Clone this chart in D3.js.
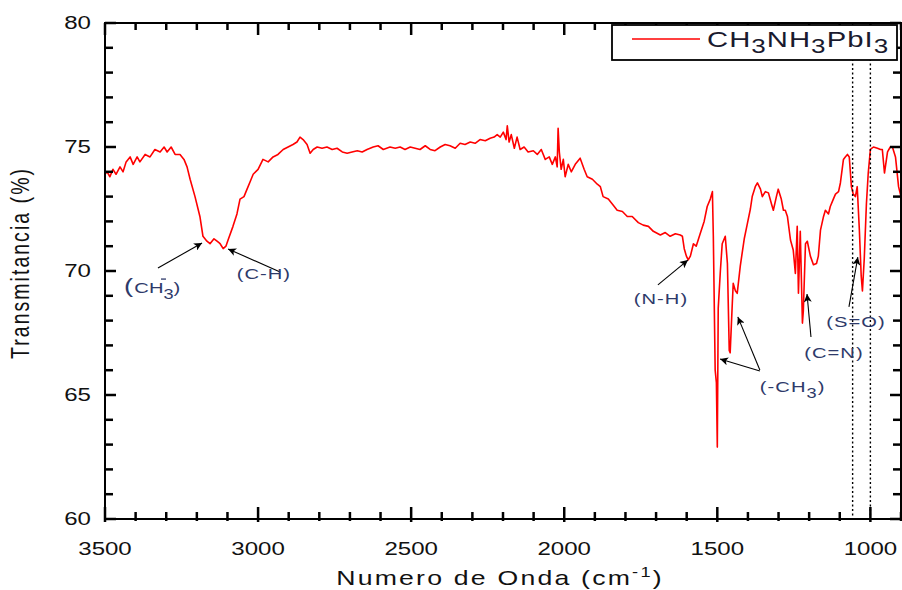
<!DOCTYPE html>
<html><head><meta charset="utf-8">
<script src="https://cdn.jsdelivr.net/npm/d3@7"></script>
<style>body{margin:0;background:#fff;} svg{display:block;}</style>
</head><body><svg id="c" width="902" height="590"></svg>
<script>
const wavenumber = [3500,3493,3484,3474,3464,3451,3441,3431,3418,3408,3395,3386,3369,3353,3337,3320,3307,3297,3284,3271,3255,3242,3232,3222,3206,3190,3180,3167,3157,3144,3134,3124,3114,3105,3098,3082,3069,3059,3046,3036,3026,3016,3000,2984,2967,2951,2935,2918,2902,2886,2873,2863,2853,2840,2830,2820,2807,2791,2775,2758,2742,2725,2709,2693,2676,2660,2644,2624,2608,2591,2569,2552,2536,2520,2503,2487,2471,2454,2438,2422,2405,2389,2373,2356,2340,2324,2307,2291,2275,2258,2242,2229,2219,2209,2199,2190,2186,2180,2173,2163,2154,2144,2131,2118,2101,2088,2075,2062,2049,2039,2029,2023,2020,2016,2010,2003,1997,1987,1977,1964,1948,1935,1925,1908,1892,1882,1873,1856,1843,1827,1810,1794,1778,1758,1742,1725,1709,1686,1670,1654,1637,1621,1614,1608,1601,1595,1588,1578,1569,1556,1543,1533,1523,1516,1513,1507,1503,1500,1497,1490,1484,1474,1467,1461,1458,1451,1448,1441,1435,1425,1412,1402,1392,1386,1376,1369,1359,1353,1343,1333,1323,1317,1307,1301,1291,1284,1278,1271,1261,1252,1245,1239,1235,1229,1222,1219,1212,1206,1196,1186,1176,1170,1163,1153,1147,1137,1131,1121,1114,1104,1098,1088,1082,1075,1069,1062,1056,1049,1043,1036,1030,1026,1020,1013,1007,1000,990,977,967,961,954,944,935,928,918,908,900];
const transmittance = [73.9,74.0,73.8,74.1,73.9,74.2,74.0,74.4,74.6,74.3,74.6,74.4,74.7,74.6,74.9,74.8,75.0,74.8,75.0,74.7,74.7,74.5,74.2,73.7,73.0,72.2,71.4,71.2,71.1,71.3,71.2,71.1,70.9,71.0,71.25,71.8,72.3,72.9,73.0,73.3,73.6,73.9,74.1,74.5,74.4,74.6,74.7,74.9,75.0,75.1,75.2,75.4,75.3,75.1,74.75,74.9,75.0,74.95,75.0,74.9,74.95,74.8,74.75,74.8,74.85,74.8,74.9,75.0,75.05,74.9,75.0,74.95,75.0,74.9,75.0,74.95,74.9,75.05,74.9,74.85,75.0,75.1,75.05,74.95,75.15,75.1,75.2,75.15,75.3,75.25,75.35,75.4,75.5,75.4,75.6,75.3,75.85,75.2,75.5,74.95,75.4,74.9,75.0,74.8,74.85,74.7,74.9,74.5,74.6,74.3,74.6,74.2,75.75,74.8,74.1,74.5,73.8,74.3,74.0,74.3,74.55,74.1,73.8,73.7,73.5,73.4,73.0,72.9,72.7,72.45,72.4,72.2,72.2,71.95,71.85,71.8,71.6,71.45,71.55,71.4,71.5,71.45,71.4,70.9,70.6,70.45,70.6,71.1,71.0,71.5,72.0,72.6,72.9,73.2,71.4,66.0,65.5,62.9,68.5,70.0,71.1,71.4,70.3,66.8,66.7,68.7,69.5,69.2,69.1,70.2,71.3,71.9,72.5,73.0,73.4,73.55,73.3,73.0,73.2,73.15,72.7,72.45,73.0,73.3,72.9,72.45,72.45,72.2,71.25,70.85,69.9,71.8,69.1,71.6,67.9,68.4,71.1,71.2,70.6,70.25,70.3,70.6,71.65,72.2,72.45,72.3,72.6,72.9,73.1,73.2,73.55,74.5,74.6,74.7,74.6,73.4,73.1,73.0,73.4,71.65,69.8,69.2,70.5,72.7,73.95,74.9,75.0,74.95,74.9,74.9,73.95,74.8,75.0,75.0,74.6,73.4,73.0];

const xMajorTicks = [3500,3000,2500,2000,1500,1000];
const xMinorTicks = [3400,3300,3200,3100,2900,2800,2700,2600,2400,2300,2200,2100,1900,1800,1700,1600,1400,1300,1200,1100,900];
const yMajorTicks = [60,65,70,75,80];
const yMinorTicks = [61,62,63,64,66,67,68,69,71,72,73,74,76,77,78,79];
const xDomain = [3500, 900];
const yDomain = [60, 80];
const markerLines = [1058, 1000];

const annotLabels = [
  {key:"CH", w:3438, t:69.11},
  {key:"C-H", text:"(C-H)", w:2981, t:69.68},
  {key:"N-H", text:"(N-H)", w:1684, t:68.67},
  {key:"-CH3", w:1361, t:65.12},
  {key:"C=N", text:"(C=N)", w:1119, t:66.49},
  {key:"S=O", text:"(S=O)", w:1047, t:67.74}
];
const arrowTailW = [3327, 2928, 1694, 1361, 1361, 1194, 1070];
const arrowTailT = [70.12, 69.96, 69.44, 65.97, 66.01, 67.34, 68.55];
const arrowTipW  = [3183, 3098, 1596, 1491, 1433, 1207, 1041];
const arrowTipT  = [71.13, 70.89, 70.44, 66.45, 68.15, 69.07, 70.56];

const svg = d3.select("#c");
const L = 105, R = 901, T = 23, B = 519;
const SX = 1.3;
const x = d3.scaleLinear().domain(xDomain).range([L, R]);
const y = d3.scaleLinear().domain(yDomain).range([B, T]);
const FONT = "'Liberation Sans', Arial, sans-serif";

function stext(px, py, anchor, size, color) {
  return svg.append("text")
    .attr("transform", `translate(${px},${py}) scale(${SX},1)`)
    .attr("text-anchor", anchor)
    .attr("font-family", FONT)
    .attr("font-size", size)
    .attr("fill", color || "#111");
}

// data line
const data = wavenumber.map((w, i) => ({w, t: transmittance[i]}));
svg.append("path").datum(data)
  .attr("fill", "none").attr("stroke", "#ff0000").attr("stroke-width", 1.6)
  .attr("stroke-linejoin", "round")
  .attr("d", d3.line().x(d => x(d.w)).y(d => y(d.t)));

// dotted marker lines
svg.selectAll(".mk").data(markerLines).enter().append("line")
  .attr("x1", d => x(d)).attr("x2", d => x(d))
  .attr("y1", T).attr("y2", B)
  .attr("stroke", "#000").attr("stroke-width", 1.4)
  .attr("stroke-dasharray", "2,2.5");

// frame
svg.append("rect").attr("x", L).attr("y", T).attr("width", R - L).attr("height", B - T)
  .attr("fill", "none").attr("stroke", "#000").attr("stroke-width", 2);

// ticks: inward on all sides, bottom ones cross the axis slightly
const TK = "#000";
function tickSet(vals, len, out, isX) {
  vals.forEach(v => {
    if (isX) {
      const px = x(v);
      svg.append("line").attr("x1", px).attr("x2", px).attr("y1", B + out).attr("y2", B - len)
        .attr("stroke", TK).attr("stroke-width", 2.5);
      svg.append("line").attr("x1", px).attr("x2", px).attr("y1", T).attr("y2", T + len)
        .attr("stroke", TK).attr("stroke-width", 2.5);
    } else {
      const py = y(v);
      svg.append("line").attr("y1", py).attr("y2", py).attr("x1", L).attr("x2", L + len)
        .attr("stroke", TK).attr("stroke-width", 2.5);
      svg.append("line").attr("y1", py).attr("y2", py).attr("x1", R).attr("x2", R - len)
        .attr("stroke", TK).attr("stroke-width", 2.5);
    }
  });
}
tickSet(xMajorTicks, 12, 3, true);
tickSet(xMinorTicks, 7, 2, true);
tickSet(yMajorTicks, 11, 0, false);
tickSet(yMinorTicks, 8, 0, false);

// tick labels
xMajorTicks.forEach(v => stext(x(v), 555, "middle", 18.5).text(v));
yMajorTicks.forEach(v => stext(91, y(v) + 6, "end", 18.5).text(v));

// axis titles
const xtitle = stext(500, 585, "middle", 20.5, "#111").attr("letter-spacing", 1.7);
xtitle.append("tspan").text("Numero de Onda (cm");
xtitle.append("tspan").attr("font-size", 14).attr("dy", -8).text("-1");
xtitle.append("tspan").attr("dy", 8).text(")");

svg.append("text")
  .attr("transform", `translate(29,264) scale(${SX},1) rotate(-90)`)
  .attr("text-anchor", "middle").attr("font-family", FONT).attr("font-size", 19.5)
  .attr("fill", "#111").attr("textLength", 190).attr("lengthAdjust", "spacing")
  .text("Transmitancia (%)");

// legend
svg.append("rect").attr("x", 612).attr("y", 25).attr("width", 285).attr("height", 35)
  .attr("fill", "#fff").attr("stroke", "#000").attr("stroke-width", 1.8);
svg.append("line").attr("x1", 632).attr("x2", 700).attr("y1", 39).attr("y2", 39)
  .attr("stroke", "#ff0000").attr("stroke-width", 1.5);
const lg = stext(707, 47, "start", 22.5, "#1a1a2e").attr("letter-spacing", 0.8);
[["CH",0],["3",1],["NH",0],["3",1],["PbI",0],["3",1]].forEach(([s, sub], i) => {
  lg.append("tspan").attr("dy", i === 0 ? 0 : (sub ? 6 : -6)).attr("font-size", sub ? 20 : 22.5).text(s);
});

// arrows
svg.append("defs").append("marker").attr("id", "ah")
  .attr("viewBox", "0 0 10 10").attr("refX", 10).attr("refY", 5)
  .attr("markerWidth", 12).attr("markerHeight", 8).attr("markerUnits", "userSpaceOnUse")
  .attr("orient", "auto")
  .append("path").attr("d", "M0,0 L10,5 L0,10 L2.5,5 Z").attr("fill", "#000");
arrowTailW.forEach((w, i) => {
  svg.append("line")
    .attr("x1", x(w)).attr("y1", y(arrowTailT[i]))
    .attr("x2", x(arrowTipW[i])).attr("y2", y(arrowTipT[i]))
    .attr("stroke", "#000").attr("stroke-width", 1.1)
    .attr("marker-end", "url(#ah)");
});

// annotation labels
const AC = "#2e3a6a";
annotLabels.forEach(a => {
  const px = x(a.w), py = y(a.t);
  if (a.text) {
    stext(px, py, "middle", 15.5, AC).attr("letter-spacing", 0.8).text(a.text);
  } else if (a.key === "CH") {
    const t = stext(px, py, "start", 15.5, AC);
    t.append("tspan").attr("font-size", 21).text("(");
    t.append("tspan").attr("font-size", 15.5).attr("dx", 1).text("CH");
    t.append("tspan").attr("font-size", 14).attr("dy", 6).text("3");
    t.append("tspan").attr("font-size", 15.5).attr("dy", -6).text(")");
  } else if (a.key === "-CH3") {
    const t = stext(px, py, "start", 15.5, AC).attr("letter-spacing", 0.8);
    t.append("tspan").text("(-CH");
    t.append("tspan").attr("font-size", 14).attr("dy", 6).text("3");
    t.append("tspan").attr("dy", -6).text(")");
  }
});
svg.append("line").attr("x1", x(3438) + 37).attr("x2", x(3438) + 42)
  .attr("y1", y(69.11) - 14).attr("y2", y(69.11) - 14)
  .attr("stroke", AC).attr("stroke-width", 1.3);
</script></body></html>
